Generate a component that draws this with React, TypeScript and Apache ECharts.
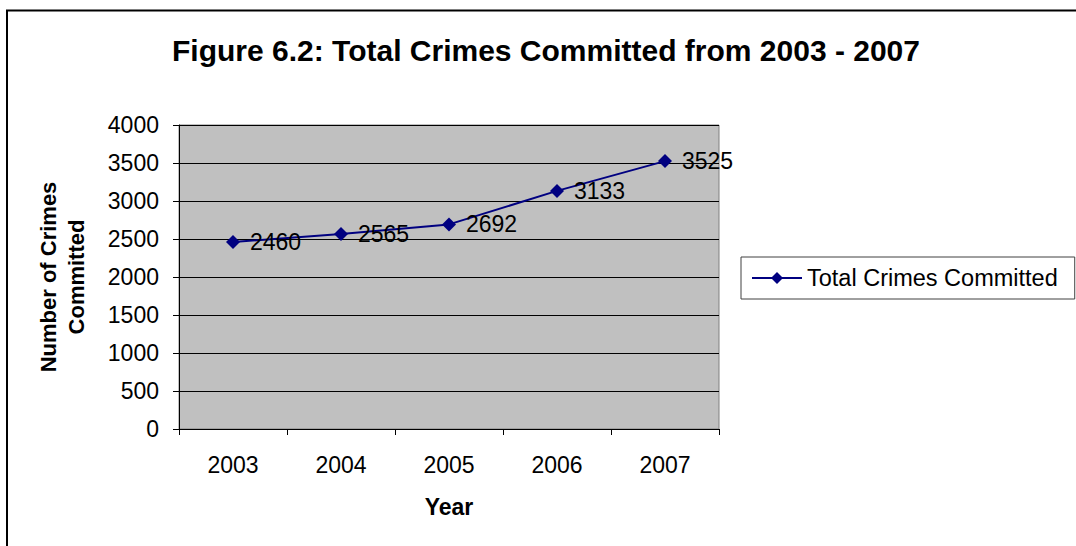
import React, { useEffect, useRef } from "react";
import * as echarts from "echarts";

const years = ["2003", "2004", "2005", "2006", "2007"];
const totalCrimes = [2460, 2565, 2692, 3133, 3525];
const seriesName = "Total Crimes Committed";
const titleText = "Figure 6.2: Total Crimes Committed from 2003 - 2007";
const yAxisTitle = "Number of Crimes\nCommitted";
const xAxisTitle = "Year";

const FONT = "'Liberation Sans', Arial, sans-serif";

export default function App() {
  const ref = useRef<HTMLDivElement>(null);
  useEffect(() => {
    if (!ref.current) return;
    const chart = echarts.init(ref.current, null, { renderer: "svg" });
    chart.setOption({
      animation: false,
      backgroundColor: "#ffffff",
      textStyle: { fontFamily: FONT },
      title: {
        text: titleText,
        left: 546,
        textAlign: "center",
        top: 35,
        padding: 0,
        textStyle: { fontSize: 30, fontWeight: "bold", color: "#000", fontFamily: FONT },
      },
      graphic: [
        {
          type: "rect",
          shape: { x: 7, y: 10.5, width: 1200, height: 700 },
          style: { fill: "none", stroke: "#000", lineWidth: 2 },
          silent: true,
          z: 100,
        },
      ],
      legend: {
        left: 741,
        top: 257,
        orient: "vertical",
        padding: [9, 17, 9, 10],
        backgroundColor: "#fff",
        borderColor: "#404040",
        borderWidth: 1,
        borderRadius: 0,
        itemWidth: 50,
        itemHeight: 15,
        textStyle: { fontSize: 23.5, color: "#000", fontFamily: FONT },
        data: [seriesName],
      },
      grid: {
        left: 179,
        top: 125,
        right: 357,
        bottom: 117,
        show: true,
        backgroundColor: "#C0C0C0",
        borderColor: "#808080",
        borderWidth: 1,
      },
      xAxis: {
        type: "category",
        data: years,
        boundaryGap: true,
        axisLine: { show: true, lineStyle: { color: "#000", width: 1 } },
        axisTick: { show: true, length: 6, alignWithLabel: false, lineStyle: { color: "#000" } },
        axisLabel: { fontSize: 23, color: "#000", margin: 24, fontFamily: FONT },
        name: xAxisTitle,
        nameLocation: "middle",
        nameGap: 66,
        nameTextStyle: { fontSize: 23, fontWeight: "bold", color: "#000", fontFamily: FONT },
      },
      yAxis: {
        type: "value",
        min: 0,
        max: 4000,
        interval: 500,
        axisLine: { show: true, lineStyle: { color: "#000", width: 1 } },
        axisTick: { show: true, length: 6, inside: false, lineStyle: { color: "#000" } },
        axisLabel: {
          fontSize: 23,
          color: "#000",
          margin: 20,
          fontFamily: FONT,
          formatter: (v: number) => String(v),
        },
        splitLine: { show: true, lineStyle: { color: "#000", width: 1 } },
        name: yAxisTitle,
        nameLocation: "middle",
        nameGap: 89,
        nameRotate: 90,
        nameTextStyle: {
          fontSize: 22,
          fontWeight: "bold",
          color: "#000",
          lineHeight: 28,
          align: "center",
          fontFamily: FONT,
        },
      },
      series: [
        {
          name: seriesName,
          type: "line",
          data: totalCrimes,
          symbol: "diamond",
          symbolSize: 14,
          lineStyle: { color: "#000080", width: 2 },
          itemStyle: { color: "#000080" },
          label: {
            show: true,
            position: "right",
            distance: 10,
            fontSize: 23,
            color: "#000",
            fontFamily: FONT,
          },
        },
      ],
    });
    return () => chart.dispose();
  }, []);
  return (
    <div
      ref={ref}
      style={{ position: "fixed", left: 0, top: 0, width: 1076, height: 546, background: "#fff" }}
    />
  );
}
